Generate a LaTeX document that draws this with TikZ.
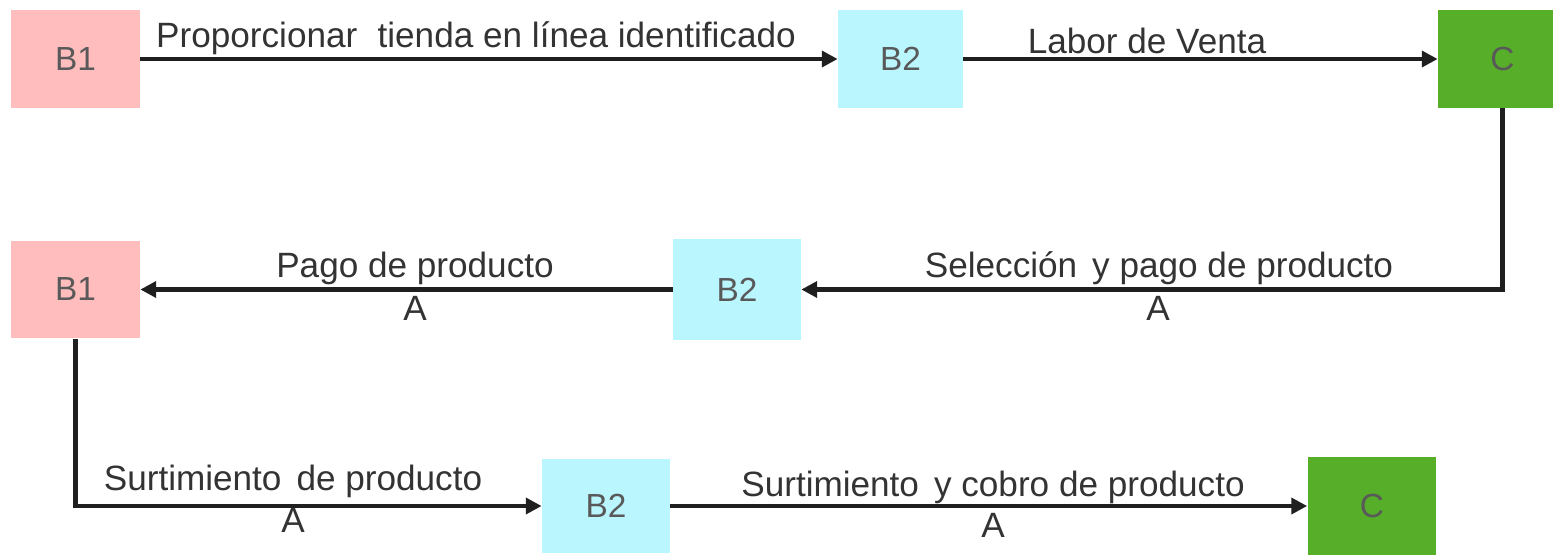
\documentclass[tikz,border=0pt]{standalone}
\usepackage{fontspec}
\setmainfont{Liberation Sans}
\usepackage{xcolor}
\usetikzlibrary{arrows.meta}

\definecolor{rosa}{HTML}{FFBDBD}
\definecolor{celeste}{HTML}{BAF6FE}
\definecolor{verde}{HTML}{56AE29}
\definecolor{texto}{HTML}{333333}

\tikzset{
  actor/.style={minimum width=2.58cm, minimum height=1.96cm, inner sep=0pt,
    text=black!65, font=\fontsize{19}{22}\selectfont},
  flujo/.style={line width=2.4pt, black!88, -{Triangle[length=9pt, width=9pt]}},
  etiqueta/.style={text=texto, inner sep=0pt, font=\fontsize{20}{24}\selectfont},
}

\begin{document}
\begin{tikzpicture}[x=0.02cm, y=-0.02cm]
                  \useasboundingbox (0, 0) rectangle (1553, 555);

                  % primera fila
                  \node[actor, fill=rosa] (b1a) at (75.5, 59) {B1};
                  \node[actor, fill=celeste, minimum width=2.5cm] (b2a) at (900.5, 59) {B2};
                  \node[actor, fill=verde] (ca) at (1502.5, 59) {C};

                  % segunda fila
                  \node[actor, fill=rosa] (b1b) at (75.5, 289.5) {B1};
                  \node[actor, fill=celeste, minimum width=2.56cm, minimum height=2.02cm] (b2b) at (737, 289.5) {B2};

                  % tercera fila
                  \node[actor, fill=celeste, minimum width=2.56cm, minimum height=1.9cm] (b2c) at (606, 506) {B2};
                  \node[actor, fill=verde] (cc) at (1372, 506) {C};

                  \draw[flujo] (b1a.east) -- (b2a.west);
                  \draw[flujo] (b2a.east) -- (ca.west);
                  \draw[flujo] (ca.south) |- (b2b.east);
                  \draw[flujo] (b2b.west) -- (b1b.east);
                  \draw[flujo] (b1b.south) |- (b2c.west);
                  \draw[flujo] (b2c.east) -- (cc.west);

                  \node[etiqueta] (l1) at (476, 38) {Proporcionar \hspace{0.3em}tienda en línea identificado};
                  \node[etiqueta] (l2) at (1147, 41) {Labor de Venta};
                  \node[etiqueta] (l3) at (1159, 268) {Selección \hspace{0.15em}y pago de producto};
                  \node[etiqueta] (a3) at (1158, 308) {A};
                  \node[etiqueta] (l4) at (415, 268) {Pago de producto};
                  \node[etiqueta] (a4) at (415, 308) {A};
                  \node[etiqueta] (l5) at (293, 481) {Surtimiento \hspace{0.15em}de producto};
                  \node[etiqueta] (a5) at (293, 520) {A};
                  \node[etiqueta] (l6) at (993, 487) {Surtimiento \hspace{0.15em}y cobro de producto};
                  \node[etiqueta] (a6) at (993, 525) {A};
              \end{tikzpicture}
\end{document}
